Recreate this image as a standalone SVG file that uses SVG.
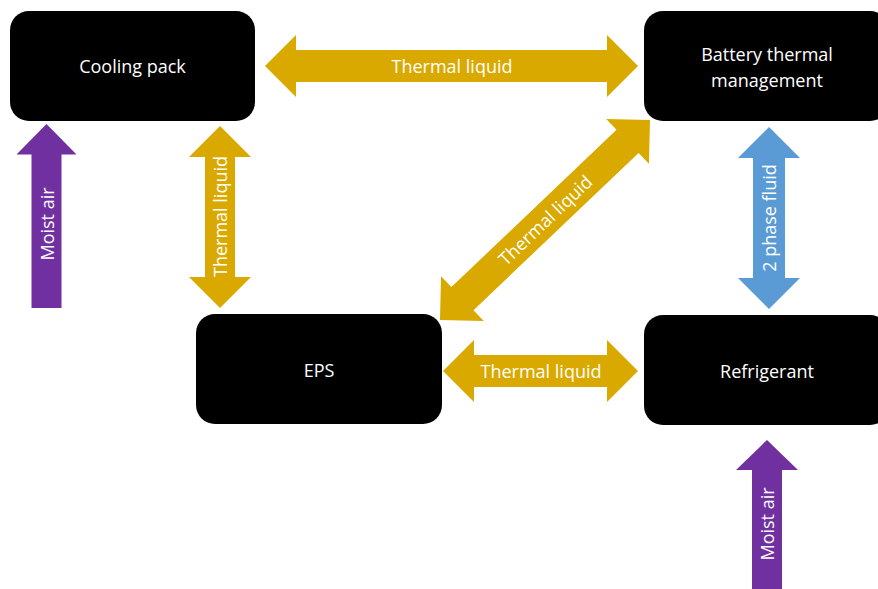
<svg xmlns="http://www.w3.org/2000/svg" width="878" height="589" viewBox="0 0 878 589">
<style>
.box{fill:#000000}
.lbl{font-family:"Open Sans","Noto Sans","Liberation Sans",sans-serif;font-size:18px;fill:#ffffff;text-anchor:middle}
.gold{fill:#DAA900}
.purple{fill:#7030A0}
.blue{fill:#5B9BD5}
</style>
<rect width="878" height="589" fill="#ffffff"/>
<g id="connectors">
  <g id="top-thermal">
    <polygon class="gold" points="265,66 296,35 296,50 607,50 607,35 638,66 607,97 607,82 296,82 296,97"/>
    <text class="lbl" x="452" y="73">Thermal liquid</text>
  </g>
  <g id="left-thermal">
    <polygon class="gold" points="220,126 251,157 235,157 235,277 251,277 220,308 189,277 205,277 205,157 189,157"/>
    <text class="lbl" transform="translate(220,216.5) rotate(-90)" x="0" y="7">Thermal liquid</text>
  </g>
  <g id="diag-thermal">
    <g transform="translate(545,220) rotate(-43.6)">
      <polygon class="gold" points="-145,0 -114,-31 -114,-16 114,-16 114,-31 145,0 114,31 114,16 -114,16 -114,31"/>
      <text class="lbl" x="0" y="7">Thermal liquid</text>
    </g>
  </g>
  <g id="bottom-thermal">
    <polygon class="gold" points="443,371 474,340 474,355 607,355 607,340 638,371 607,402 607,387 474,387 474,402"/>
    <text class="lbl" x="541" y="378">Thermal liquid</text>
  </g>
  <g id="two-phase">
    <polygon class="blue" points="769,127 800,158 785,158 785,278 800,278 769,309 738,278 753,278 753,158 738,158"/>
    <text class="lbl" transform="translate(769,218) rotate(-90)" x="0" y="7">2 phase fluid</text>
  </g>
  <g id="moist-air-left">
    <polygon class="purple" points="46.5,124 76.5,154.5 61.5,154.5 61.5,308 31.5,308 31.5,154.5 16.5,154.5"/>
    <text class="lbl" transform="translate(46.5,224) rotate(-90)" x="0" y="7">Moist air</text>
  </g>
  <g id="moist-air-bottom">
    <polygon class="purple" points="767,440 798,470 782,470 782,590 752,590 752,470 736,470"/>
    <text class="lbl" transform="translate(767,524) rotate(-90)" x="0" y="7">Moist air</text>
  </g>
</g>
<g id="cooling-pack">
  <rect class="box" x="10" y="11" width="245" height="110" rx="19"/>
  <text class="lbl" x="132.5" y="73">Cooling pack</text>
</g>
<g id="battery-thermal-management">
  <rect class="box" x="644" y="11" width="245" height="110" rx="19"/>
  <text class="lbl" x="767" y="61">Battery thermal</text>
  <text class="lbl" x="767" y="87">management</text>
</g>
<g id="eps">
  <rect class="box" x="196" y="314" width="246" height="110" rx="19"/>
  <text class="lbl" x="319" y="377">EPS</text>
</g>
<g id="refrigerant">
  <rect class="box" x="644" y="315" width="245" height="110" rx="19"/>
  <text class="lbl" x="767" y="378">Refrigerant</text>
</g>
</svg>
